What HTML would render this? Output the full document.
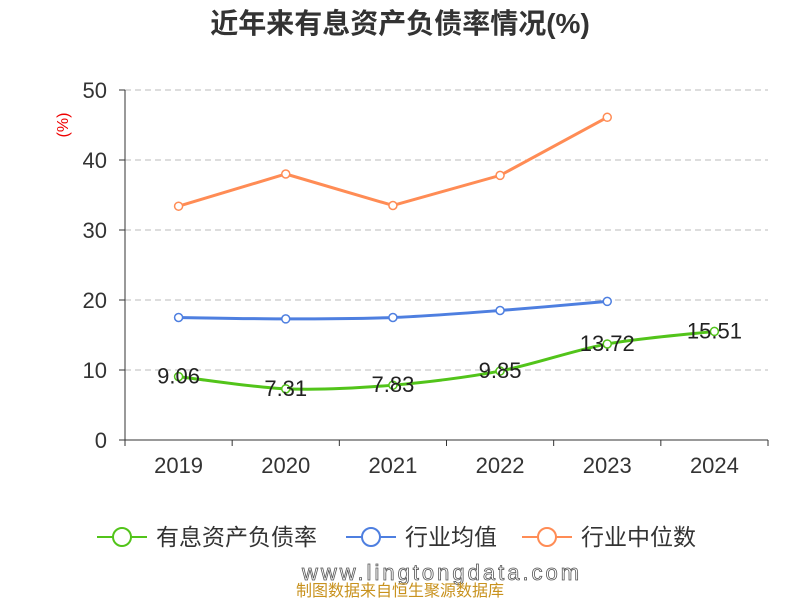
<!DOCTYPE html>
<html><head><meta charset="utf-8"><style>
body{margin:0;background:#fff;font-family:"Liberation Sans","Noto Sans CJK SC",sans-serif}
</style></head><body>
<svg width="800" height="600" xmlns="http://www.w3.org/2000/svg" font-family="Liberation Sans, Noto Sans CJK SC, sans-serif">
<text x="400" y="33" text-anchor="middle" font-size="28" font-weight="bold" fill="#333">近年来有息资产负债率情况(%)</text>
<text x="68" y="125" text-anchor="middle" font-size="16" fill="#e00" transform="rotate(-90 68 125)">(%)</text>
<g id="grid"></g><g id="axes"></g><g id="series"></g>
<g font-size="23" fill="#333">
<g><line x1="97" y1="537" x2="147" y2="537" stroke="#52c41a" stroke-width="2"/><circle cx="122" cy="537" r="9" fill="#fff" stroke="#52c41a" stroke-width="2"/><text x="156" y="545">有息资产负债率</text></g>
<g><line x1="346" y1="537" x2="396" y2="537" stroke="#4e7fe0" stroke-width="2"/><circle cx="371" cy="537" r="9" fill="#fff" stroke="#4e7fe0" stroke-width="2"/><text x="405" y="545">行业均值</text></g>
<g><line x1="522" y1="537" x2="572" y2="537" stroke="#ff8c55" stroke-width="2"/><circle cx="547" cy="537" r="9" fill="#fff" stroke="#ff8c55" stroke-width="2"/><text x="581" y="545">行业中位数</text></g>
</g>
<text x="302" y="580" font-size="22" fill="#fff" stroke="#555" stroke-width="0.8" letter-spacing="3">www.lingtongdata.com</text>
<text x="400" y="596" text-anchor="middle" font-size="16" fill="#c8921e">制图数据来自恒生聚源数据库</text>
</svg>
<script>
const categories=["2019","2020","2021","2022","2023","2024"];
const debtRatio=[9.06,7.31,7.83,9.85,13.72,15.51];
const industryAvg=[17.5,17.3,17.5,18.5,19.8,null];
const industryMedian=[33.4,38.0,33.5,37.8,46.1,null];
const yTicks=[0,10,20,30,40,50];
const NS="http://www.w3.org/2000/svg";
const L=125,R=768,T=90,B=440,bw=(R-L)/categories.length;
const x=i=>L+bw*(i+0.5), y=v=>B-(v/50)*(B-T);
function mk(t,a,p){const e=document.createElementNS(NS,t);for(const k in a)e.setAttribute(k,a[k]);p.appendChild(e);return e;}
const grid=document.getElementById('grid'),axes=document.getElementById('axes'),ser=document.getElementById('series');
yTicks.forEach(v=>{
 if(v>0){const g=mk('line',{x1:L,x2:R,y1:y(v),y2:y(v),stroke:'#bbb','stroke-dasharray':'6,4'},grid);
 
 }
 const t=mk('text',{x:L-18,y:y(v)+8,'text-anchor':'end','font-size':22,fill:'#333'},axes);t.textContent=v;
 
 
 mk('line',{x1:L-6,x2:L,y1:y(v),y2:y(v),stroke:'#333'},axes);
});
mk('line',{x1:L,x2:L,y1:T,y2:B,stroke:'#333'},axes);
mk('line',{x1:L,x2:R,y1:B,y2:B,stroke:'#333'},axes);
categories.forEach((c,i)=>{
 mk('line',{x1:L+bw*i,x2:L+bw*i,y1:B,y2:B+6,stroke:'#333'},axes);
 const t=mk('text',{x:x(i),y:B+33,'text-anchor':'middle','font-size':22,fill:'#333'},axes);t.textContent=c;
 
 
});
mk('line',{x1:R,x2:R,y1:B,y2:B+6,stroke:'#333'},axes);
function smooth(pts){let d=`M${pts[0][0]},${pts[0][1]}`;for(let i=0;i<pts.length-1;i++){const p0=pts[i-1]||pts[i],p1=pts[i],p2=pts[i+1],p3=pts[i+2]||p2;const k=0.15;d+=` C${p1[0]+(p2[0]-p0[0])*k},${p1[1]+(p2[1]-p0[1])*k} ${p2[0]-(p3[0]-p1[0])*k},${p2[1]-(p3[1]-p1[1])*k} ${p2[0]},${p2[1]}`;}return d;}
function series(vals,color,name,labels,sm){
 const pts=[];vals.forEach((v,i)=>{if(v!=null)pts.push([x(i),y(v),v]);});
 const p=mk('path',{d:sm?smooth(pts):'M'+pts.map(q=>q[0]+','+q[1]).join(' L'),fill:'none',stroke:color,'stroke-width':3},ser);
 
 
 pts.forEach(q=>{const c=mk('circle',{cx:q[0],cy:q[1],r:4,fill:'#fff',stroke:color,'stroke-width':1.5},ser);
  
  
  if(labels){const t=mk('text',{x:q[0],y:q[1]+7,'text-anchor':'middle','font-size':22,fill:'#222'},ser);t.textContent=q[2].toFixed(2);
  
  }
 });
}
series(industryMedian,'#ff8c55','industry-median',false,false);
series(industryAvg,'#4e7fe0','industry-average',false,true);
series(debtRatio,'#52c41a','debt-ratio',true,true);
</script>
</body></html>
